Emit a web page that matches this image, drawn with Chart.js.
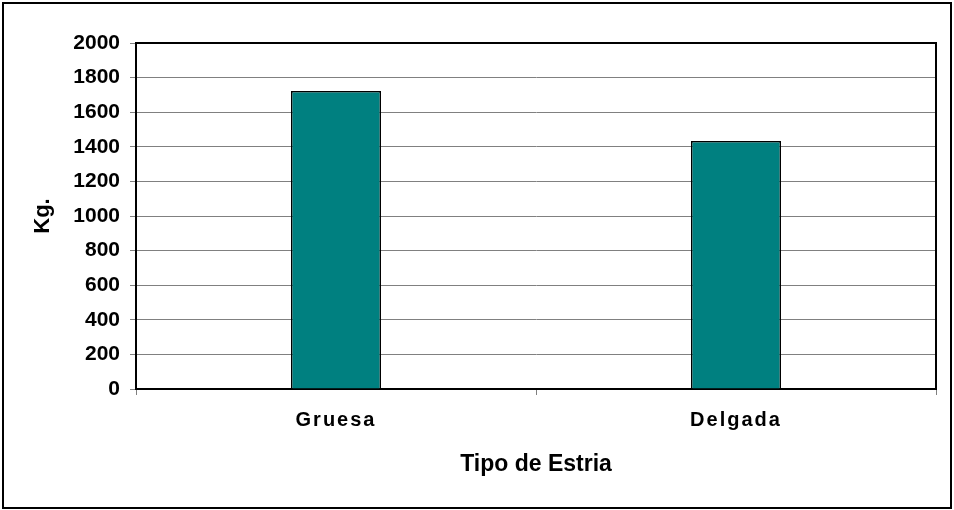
<!DOCTYPE html>
<html>
<head>
    <title>Tipo de Estria</title>
    <script src="https://cdn.jsdelivr.net/npm/chart.js"></script>
    <style>
        body { margin: 0; background: white; }
        canvas { display: block; }
    </style>
</head>
<body>
    <canvas id="myChart" width="954" height="510"></canvas>

    <script>
        // datos
        const categorias = ['Gruesa', 'Delgada'];
        const valores = [1722, 1433];
        const ejeY = { min: 0, max: 2000, paso: 200 };

        const fuente = "'Liberation Sans', Arial, sans-serif";

        // borde del area de grafico y marco exterior
        const marcos = {
            id: 'marcos',
            beforeDatasetsDraw(chart) {
                const a = chart.chartArea;
                const ctx = chart.ctx;
                ctx.save();
                ctx.strokeStyle = '#000';
                ctx.lineWidth = 2;
                ctx.strokeRect(a.left, a.top, a.right - a.left, a.bottom - a.top);
                ctx.restore();
            },
            afterDraw(chart) {
                const ctx = chart.ctx;
                ctx.save();
                ctx.strokeStyle = '#000';
                ctx.lineWidth = 2;
                ctx.strokeRect(3, 3, 948, 505);
                ctx.restore();
            }
        };

        const ctx = document.getElementById('myChart').getContext('2d');
        window.myChart = new Chart(ctx, {
            type: 'bar',
            data: {
                labels: categorias,
                datasets: [{
                    label: 'Kg.',
                    data: valores,
                    backgroundColor: '#008080',
                    borderColor: '#000',
                    borderWidth: 1.5,
                    barPercentage: 0.225,
                    categoryPercentage: 1
                }]
            },
            options: {
                responsive: false,
                animation: false,
                layout: { padding: { left: 10, right: 18, top: 43, bottom: 20 } },
                plugins: {
                    legend: { display: false },
                    tooltip: { enabled: false }
                },
                scales: {
                    x: {
                        grid: { display: true, drawOnChartArea: false, drawTicks: true, tickLength: 6, color: '#808080', offset: true },
                        border: { color: '#000', width: 2 },
                        ticks: { color: '#000', padding: 13, font: { family: fuente, size: 20, weight: 'bold' } },
                        title: {
                            display: true, text: 'Tipo de Estria', color: '#000',
                            font: { family: fuente, size: 23, weight: 'bold' },
                            padding: { top: 0, bottom: 12 }
                        },
                        afterFit(scale) { scale.height = 101; },
                        afterUpdate(scale) {
                            if (scale._espaciado) return;
                            scale._espaciado = true;
                            const orig = scale.drawLabels;
                            scale.drawLabels = function (area) {
                                const c = this.ctx;
                                c.save();
                                c.letterSpacing = '2px';
                                orig.call(this, area);
                                c.restore();
                            };
                        }
                    },
                    y: {
                        min: ejeY.min,
                        max: ejeY.max,
                        grid: { color: '#808080', tickLength: 6 },
                        border: { color: '#000', width: 2 },
                        ticks: {
                            stepSize: ejeY.paso, color: '#000', padding: 10,
                            font: { family: fuente, size: 21, weight: 'bold' },
                            callback: v => String(v)
                        },
                        title: {
                            display: true, text: 'Kg.', color: '#000',
                            font: { family: fuente, size: 22, weight: 'bold' },
                            padding: { top: 20, bottom: 0 }
                        },
                        afterFit(scale) { scale.width = 126; }
                    }
                }
            },
            plugins: [marcos]
        });
    </script>
</body>
</html>
